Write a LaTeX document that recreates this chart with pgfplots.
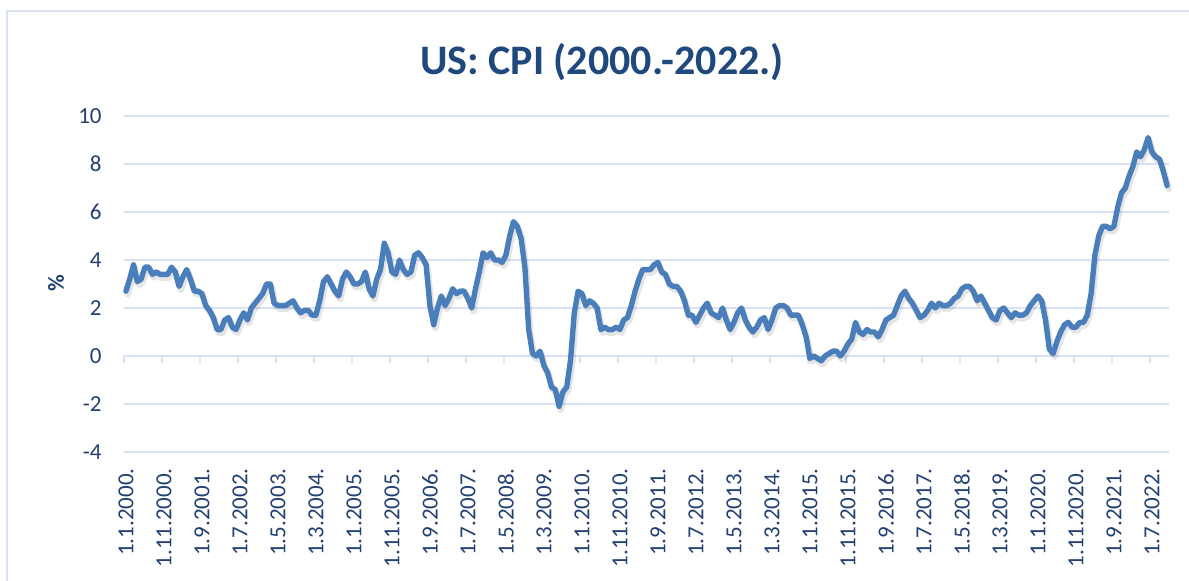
\documentclass[border=0pt]{standalone}
\usepackage{pgfplots}
\pgfplotsset{compat=1.18}
\usepackage{pgfplotstable}
\usepackage{fontspec}
\setmainfont{Carlito}
\definecolor{gridc}{RGB}{217,226,243}
\definecolor{labc}{RGB}{35,64,115}
\definecolor{titc}{RGB}{31,73,125}
\definecolor{linec}{RGB}{74,126,187}
\pgfplotstableread[row sep=\\]{
cpi\\
2.7\\ 3.2\\ 3.8\\ 3.1\\ 3.2\\ 3.7\\ 3.7\\ 3.4\\ 3.5\\ 3.4\\ 3.4\\ 3.4\\
3.7\\ 3.5\\ 2.9\\ 3.3\\ 3.6\\ 3.2\\ 2.7\\ 2.7\\ 2.6\\ 2.1\\ 1.9\\ 1.6\\
1.1\\ 1.1\\ 1.5\\ 1.6\\ 1.2\\ 1.1\\ 1.5\\ 1.8\\ 1.5\\ 2.0\\ 2.2\\ 2.4\\
2.6\\ 3.0\\ 3.0\\ 2.2\\ 2.1\\ 2.1\\ 2.1\\ 2.2\\ 2.3\\ 2.0\\ 1.8\\ 1.9\\
1.9\\ 1.7\\ 1.7\\ 2.3\\ 3.1\\ 3.3\\ 3.0\\ 2.7\\ 2.5\\ 3.2\\ 3.5\\ 3.3\\
3.0\\ 3.0\\ 3.1\\ 3.5\\ 2.8\\ 2.5\\ 3.2\\ 3.6\\ 4.7\\ 4.3\\ 3.5\\ 3.4\\
4.0\\ 3.6\\ 3.4\\ 3.5\\ 4.2\\ 4.3\\ 4.1\\ 3.8\\ 2.1\\ 1.3\\ 2.0\\ 2.5\\
2.1\\ 2.4\\ 2.8\\ 2.6\\ 2.7\\ 2.7\\ 2.4\\ 2.0\\ 2.8\\ 3.5\\ 4.3\\ 4.1\\
4.3\\ 4.0\\ 4.0\\ 3.9\\ 4.2\\ 5.0\\ 5.6\\ 5.4\\ 4.9\\ 3.7\\ 1.1\\ 0.1\\
0.0\\ 0.2\\ -0.4\\ -0.7\\ -1.3\\ -1.4\\ -2.1\\ -1.5\\ -1.3\\ -0.2\\ 1.8\\ 2.7\\
2.6\\ 2.1\\ 2.3\\ 2.2\\ 2.0\\ 1.1\\ 1.2\\ 1.1\\ 1.1\\ 1.2\\ 1.1\\ 1.5\\
1.6\\ 2.1\\ 2.7\\ 3.2\\ 3.6\\ 3.6\\ 3.6\\ 3.8\\ 3.9\\ 3.5\\ 3.4\\ 3.0\\
2.9\\ 2.9\\ 2.7\\ 2.3\\ 1.7\\ 1.7\\ 1.4\\ 1.7\\ 2.0\\ 2.2\\ 1.8\\ 1.7\\
1.6\\ 2.0\\ 1.5\\ 1.1\\ 1.4\\ 1.8\\ 2.0\\ 1.5\\ 1.2\\ 1.0\\ 1.2\\ 1.5\\
1.6\\ 1.1\\ 1.5\\ 2.0\\ 2.1\\ 2.1\\ 2.0\\ 1.7\\ 1.7\\ 1.7\\ 1.3\\ 0.8\\
-0.1\\ 0.0\\ -0.1\\ -0.2\\ 0.0\\ 0.1\\ 0.2\\ 0.2\\ 0.0\\ 0.2\\ 0.5\\ 0.7\\
1.4\\ 1.0\\ 0.9\\ 1.1\\ 1.0\\ 1.0\\ 0.8\\ 1.1\\ 1.5\\ 1.6\\ 1.7\\ 2.1\\
2.5\\ 2.7\\ 2.4\\ 2.2\\ 1.9\\ 1.6\\ 1.7\\ 1.9\\ 2.2\\ 2.0\\ 2.2\\ 2.1\\
2.1\\ 2.2\\ 2.4\\ 2.5\\ 2.8\\ 2.9\\ 2.9\\ 2.7\\ 2.3\\ 2.5\\ 2.2\\ 1.9\\
1.6\\ 1.5\\ 1.9\\ 2.0\\ 1.8\\ 1.6\\ 1.8\\ 1.7\\ 1.7\\ 1.8\\ 2.1\\ 2.3\\
2.5\\ 2.3\\ 1.5\\ 0.3\\ 0.1\\ 0.6\\ 1.0\\ 1.3\\ 1.4\\ 1.2\\ 1.2\\ 1.4\\
1.4\\ 1.7\\ 2.6\\ 4.2\\ 5.0\\ 5.4\\ 5.4\\ 5.3\\ 5.4\\ 6.2\\ 6.8\\ 7.0\\
7.5\\ 7.9\\ 8.5\\ 8.3\\ 8.6\\ 9.1\\ 8.5\\ 8.3\\ 8.2\\ 7.7\\ 7.1\\
}\cpidata
\begin{document}
\begin{tikzpicture}
\path[use as bounding box] (0,0) rectangle (594.5pt,290.5pt);
\draw[gridc, line width=0.75pt] (3.5pt,-20pt) rectangle (620pt,285pt);
\node[font=\fontsize{21}{25}\selectfont\bfseries, text=titc] at (301pt,259.5pt) {US: CPI (2000.-2022.)};
\node[font=\fontsize{11.5}{13}\selectfont\bfseries, text=labc, rotate=90] at (28pt,149pt) {\%};
\begin{axis}[
  at={(62pt,64.5pt)}, anchor=south west,
  scale only axis, width=522.5pt, height=168pt,
  xmin=-0.5, xmax=274.5, ymin=-4, ymax=10,
  ytick={-4,-2,...,10},
  xtick={0,10,...,270},
  xticklabels={1.1.2000.,1.11.2000.,1.9.2001.,1.7.2002.,1.5.2003.,1.3.2004.,1.1.2005.,1.11.2005.,1.9.2006.,1.7.2007.,1.5.2008.,1.3.2009.,1.1.2010.,1.11.2010.,1.9.2011.,1.7.2012.,1.5.2013.,1.3.2014.,1.1.2015.,1.11.2015.,1.9.2016.,1.7.2017.,1.5.2018.,1.3.2019.,1.1.2020.,1.11.2020.,1.9.2021.,1.7.2022.},
  axis line style={draw=none},
  major tick length=0pt,
  ymajorgrids, grid style={gridc, line width=1pt},
  tick label style={font=\fontsize{11.5}{13}\selectfont, text=labc},
  xticklabel style={rotate=90, anchor=east, inner sep=0pt},
  yticklabel style={anchor=east, inner sep=0pt},
  xticklabel shift=8pt, yticklabel shift=11pt,
  /pgf/number format/assume math mode=true,
  clip=false,
]
\pgfplotsinvokeforeach{0,...,27}{
  \draw[gridc, line width=1pt] (#1*10-0.5,0) -- ++(0pt,-3.5pt);
}
\draw[gridc, line width=1pt] (-0.5,0) -- (274.5,0);
\addplot[black, opacity=0.1, line width=3.2pt, line join=round, line cap=round, xshift=0.8pt, yshift=-1.6pt] table[x expr=\coordindex, y=cpi] {\cpidata};
\addplot[linec, line width=2.7pt, line join=round, line cap=round] table[x expr=\coordindex, y=cpi] {\cpidata};
\end{axis}
\end{tikzpicture}
\end{document}
